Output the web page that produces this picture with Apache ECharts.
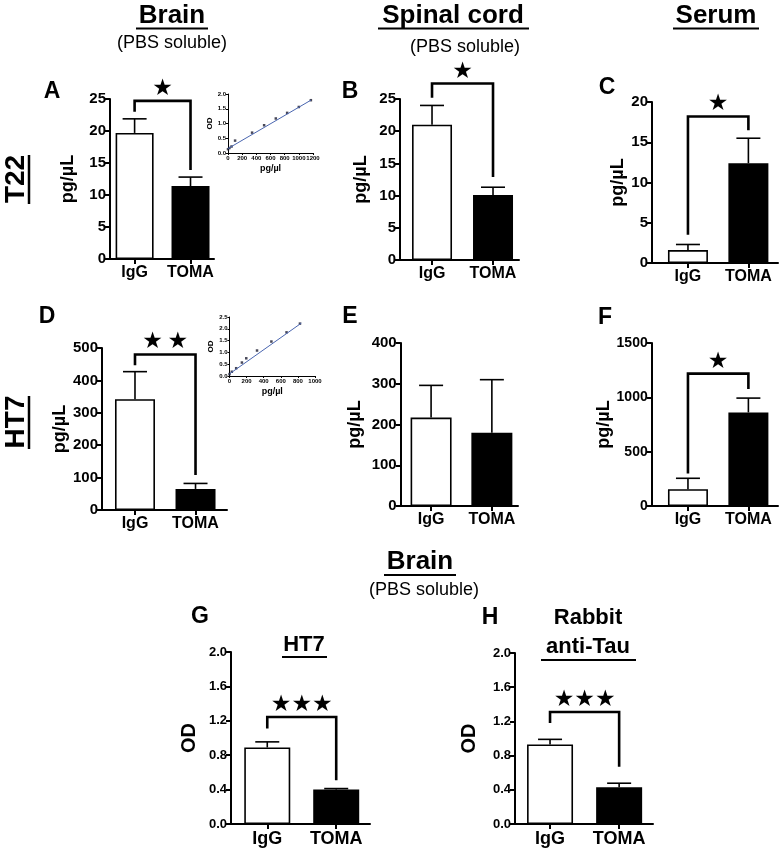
<!DOCTYPE html>
<html><head><meta charset="utf-8">
<script src="https://cdn.jsdelivr.net/npm/echarts@6/dist/echarts.min.js"></script>
<style>html,body{margin:0;padding:0;background:#fff}#c{width:782px;height:853px}</style>
</head><body><div id="c"></div>
<script>
// ---------- data ----------
const categories = ['IgG', 'TOMA'];
// T22 row (pg/µL): mean and SEM for IgG, TOMA
const t22BrainMean = [19.7, 11.4], t22BrainSem = [2.2, 1.4];
const t22SpinalMean = [21.0, 10.1], t22SpinalSem = [3.0, 1.2];
const t22SerumMean = [1.6, 12.4], t22SerumSem = [0.7, 3.1];
// HT7 row (pg/µL)
const ht7BrainMean = [342, 65], ht7BrainSem = [85, 17];
const ht7SpinalMean = [217, 180], ht7SpinalSem = [79, 130];
const ht7SerumMean = [154, 861], ht7SerumSem = [101, 132];
// Bottom row (OD)
const odHt7Mean = [0.89, 0.40], odHt7Sem = [0.065, 0.012];
const odTauMean = [0.93, 0.43], odTauSem = [0.06, 0.047];
// significance brackets: [bracket level, IgG arm end, TOMA arm end]
const sigA = [24.7, 23.0, 13.9], sigB = [27.4, 25.2, 12.9], sigC = [18.2, 3.5, 16.5];
const sigD = [480, 447, 108], sigF = [1218, 300, 1077];
const sigG = [1.245, 1.11, 0.51], sigH = [1.31, 1.18, 0.67];
const starsA = '★', starsB = '★', starsC = '★', starsD = '★\u2009★', starsF = '★', starsG = '★★★', starsH = '★★★';
// standard curves (insets)
const stdT22Conc = [0, 20, 50, 100, 340, 510, 675, 835, 1000, 1170];
const stdT22Od = [0.13, 0.17, 0.22, 0.42, 0.69, 0.94, 1.17, 1.36, 1.56, 1.79];
const fitT22Conc = [0, 1170], fitT22Od = [0.15, 1.79];
const stdHt7Conc = [0, 27, 78, 145, 196, 322, 490, 667, 824];
const stdHt7Od = [0.08, 0.18, 0.33, 0.57, 0.75, 1.08, 1.46, 1.85, 2.22];
const fitHt7Conc = [0, 840], fitHt7Od = [0.09, 2.24];

// ---------- layout ----------
const FONT = '"Liberation Sans", Arial, sans-serif';
const STARFONT = '"DejaVu Sans", sans-serif';
const panels = [
  {mean: t22BrainMean, sem: t22BrainSem, sig: sigA, stars: starsA, yMax: 25, yInt: 5, dec: 0, yName: 'pg/µL',
   L: {left: 110, right: 214, top: 99, bottom: 259, xMin: -0.44, xMax: 1.42, barW: 38, nameGap: 33, tickFont: 15, catFont: 16, nameFont: 18}},
  {mean: t22SpinalMean, sem: t22SpinalSem, sig: sigB, stars: starsB, yMax: 25, yInt: 5, dec: 0, yName: 'pg/µL',
   L: {left: 400, right: 519, top: 99, bottom: 260, xMin: -0.525, xMax: 1.426, barW: 40, nameGap: 30, tickFont: 15, catFont: 16, nameFont: 18}},
  {mean: t22SerumMean, sem: t22SerumSem, sig: sigC, stars: starsC, yMax: 20, yInt: 5, dec: 0, yName: 'pg/µL',
   L: {left: 652, right: 778, top: 102, bottom: 263, xMin: -0.595, xMax: 1.49, barW: 40, nameGap: 24, tickFont: 15, catFont: 16, nameFont: 18}},
  {mean: ht7BrainMean, sem: ht7BrainSem, sig: sigD, stars: starsD, yMax: 500, yInt: 100, dec: 0, yName: 'pg/µL',
   L: {left: 102, right: 227, top: 348, bottom: 510, xMin: -0.545, xMax: 1.52, barW: 40, nameGap: 29, tickFont: 15, catFont: 16, nameFont: 18}},
  {mean: ht7SpinalMean, sem: ht7SpinalSem, sig: null, stars: '', yMax: 400, yInt: 100, dec: 0, yName: 'pg/µL',
   L: {left: 400.7, right: 518, top: 343, bottom: 506, xMin: -0.5, xMax: 1.43, barW: 41, nameGap: 37, tickFont: 15, catFont: 16, nameFont: 18}},
  {mean: ht7SerumMean, sem: ht7SerumSem, sig: sigF, stars: starsF, yMax: 1500, yInt: 500, dec: 0, yName: 'pg/µL',
   L: {left: 651.7, right: 778, top: 343, bottom: 506, xMin: -0.6, xMax: 1.49, barW: 40, nameGap: 27, tickFont: 14, catFont: 16, nameFont: 18}},
  {mean: odHt7Mean, sem: odHt7Sem, sig: sigG, stars: starsG, yMax: 2, yInt: 0.4, dec: 1, yName: 'OD',
   L: {left: 231, right: 370, top: 652, bottom: 824, xMin: -0.526, xMax: 1.49, barW: 46, nameGap: 32, tickFont: 13, catFont: 18, nameFont: 20}},
  {mean: odTauMean, sem: odTauSem, sig: sigH, stars: starsH, yMax: 2, yInt: 0.4, dec: 1, yName: 'OD',
   L: {left: 515, right: 653, top: 653, bottom: 824, xMin: -0.507, xMax: 1.49, barW: 46, nameGap: 36, tickFont: 13, catFont: 18, nameFont: 20}}
];
const insets = [
  {conc: stdT22Conc, od: stdT22Od, fitC: fitT22Conc, fitO: fitT22Od, xMax: 1200, yMax: 2,
   L: {left: 228, top: 94, width: 85, height: 59}},
  {conc: stdHt7Conc, od: stdHt7Od, fitC: fitHt7Conc, fitO: fitHt7Od, xMax: 1000, yMax: 2.5,
   L: {left: 229.5, top: 317, width: 85.5, height: 59}}
];

function errRender(params, api) {
  const x = api.value(0), m = api.value(1), u = api.value(2);
  const p0 = api.coord([x, m]), p1 = api.coord([x, u]);
  const hw = 12;
  return {type: 'group', children: [
    {type: 'line', shape: {x1: p0[0], y1: p0[1], x2: p1[0], y2: p1[1]}, style: {stroke: '#000', lineWidth: 1.6}},
    {type: 'line', shape: {x1: p1[0] - hw, y1: p1[1], x2: p1[0] + hw, y2: p1[1]}, style: {stroke: '#000', lineWidth: 1.6}}
  ]};
}
function sigRender(stars) {
  return function (params, api) {
    const lv = api.value(1), le = api.value(2), re = api.value(3);
    const a = api.coord([0, le]), b = api.coord([0, lv]), c = api.coord([1, lv]), d = api.coord([1, re]);
    return {type: 'group', children: [
      {type: 'polyline', shape: {points: [a, b, c, d]}, style: {stroke: '#000', lineWidth: 2.6, fill: null}},
      {type: 'text', x: (b[0] + c[0]) / 2, y: b[1] - 12,
       style: {text: stars, font: '23px ' + STARFONT, fill: '#000', align: 'center', verticalAlign: 'middle'}}
    ]};
  };
}

const grid = [], xAxis = [], yAxis = [], series = [];
panels.forEach((p, i) => {
  const L = p.L;
  grid.push({left: L.left, top: L.top, width: L.right - L.left, height: L.bottom - L.top});
  xAxis.push({type: 'value', gridIndex: i, min: L.xMin, max: L.xMax, splitLine: {show: false},
    axisLine: {onZero: false, lineStyle: {color: '#000', width: 2}},
    axisTick: {show: true, customValues: [0, 1], length: 5, lineStyle: {color: '#000', width: 2}},
    axisLabel: {customValues: [0, 1], formatter: v => categories[Math.round(v)], color: '#000',
      fontWeight: 'bold', fontSize: L.catFont, fontFamily: FONT, margin: 6}});
  yAxis.push({type: 'value', gridIndex: i, min: 0, max: p.yMax, interval: p.yInt, splitLine: {show: false},
    axisLine: {show: true, onZero: false, lineStyle: {color: '#000', width: 2}},
    axisTick: {show: true, length: 5, lineStyle: {color: '#000', width: 2}},
    axisLabel: {color: '#000', fontWeight: 'bold', fontSize: L.tickFont, fontFamily: FONT, margin: 4,
      formatter: v => v.toFixed(p.dec)},
    name: p.yName, nameLocation: 'middle', nameGap: L.nameGap, nameRotate: 90,
    nameTextStyle: {color: '#000', fontWeight: 'bold', fontSize: L.nameFont, fontFamily: FONT}});
  series.push({type: 'bar', xAxisIndex: i, yAxisIndex: i, barWidth: L.barW, silent: true,
    data: p.mean.map((m, k) => ({value: [k, m], itemStyle: k === 0
      ? {color: '#fff', borderColor: '#000', borderWidth: 1.6}
      : {color: '#000', borderColor: '#000', borderWidth: 1.6}}))});
  series.push({type: 'custom', xAxisIndex: i, yAxisIndex: i, z: 3, clip: false,
    encode: {x: 0, y: [1, 2]},
    data: p.mean.map((m, k) => [k, m, m + p.sem[k]]), renderItem: errRender});
  if (p.sig) {
    series.push({type: 'custom', xAxisIndex: i, yAxisIndex: i, z: 4, clip: false,
      encode: {x: 0, y: [1, 2, 3]},
      data: [[0.5, p.sig[0], p.sig[1], p.sig[2]]], renderItem: sigRender(p.stars)});
  }
});
insets.forEach((s, j) => {
  const i = panels.length + j, L = s.L;
  grid.push({left: L.left, top: L.top, width: L.width, height: L.height});
  xAxis.push({type: 'value', gridIndex: i, min: 0, max: s.xMax, interval: 200, splitLine: {show: false},
    axisLine: {onZero: false, lineStyle: {color: '#000', width: 1}},
    axisTick: {length: 2, lineStyle: {color: '#000', width: 1}},
    axisLabel: {color: '#000', fontSize: 6, fontWeight: 'bold', fontFamily: FONT, margin: 2, formatter: v => String(v)},
    name: 'pg/µl', nameLocation: 'middle', nameGap: 11,
    nameTextStyle: {color: '#000', fontSize: 9, fontWeight: 'bold', fontFamily: FONT}});
  yAxis.push({type: 'value', gridIndex: i, min: 0, max: s.yMax, interval: 0.5, splitLine: {show: false},
    axisLine: {show: true, onZero: false, lineStyle: {color: '#000', width: 1}},
    axisTick: {show: true, length: 2, lineStyle: {color: '#000', width: 1}},
    axisLabel: {color: '#000', fontSize: 6, fontWeight: 'bold', fontFamily: FONT, margin: 2, formatter: v => v.toFixed(1)},
    name: 'OD', nameLocation: 'middle', nameGap: 14, nameRotate: 90,
    nameTextStyle: {color: '#000', fontSize: 8, fontWeight: 'bold', fontFamily: FONT}});
  series.push({type: 'line', xAxisIndex: i, yAxisIndex: i, symbol: 'none', silent: true,
    lineStyle: {color: '#4a66b0', width: 1},
    data: s.fitC.map((c, k) => [c, s.fitO[k]])});
  series.push({type: 'scatter', xAxisIndex: i, yAxisIndex: i, symbol: 'rect', symbolSize: 2.5, silent: true,
    itemStyle: {color: '#1a1a2e'},
    data: s.conc.map((c, k) => [c, s.od[k]])});
});

function txt(x, y, t, size, bold, extra) {
  return Object.assign({type: 'text', x: x, y: y, silent: true,
    style: {text: t, font: (bold ? 'bold ' : '') + size + 'px ' + FONT, fill: '#000', align: 'center', verticalAlign: 'middle'}}, extra || {});
}
function ln(x1, y1, x2, y2, w) {
  return {type: 'line', silent: true, shape: {x1, y1, x2, y2}, style: {stroke: '#000', lineWidth: w || 2}};
}
const graphic = [
  txt(172, 16, 'Brain', 26, true), ln(136, 28.5, 208, 28.5, 2.2),
  txt(172, 43, '(PBS soluble)', 18, false),
  txt(453, 16, 'Spinal cord', 26, true), ln(378, 28.5, 529, 28.5, 2.2),
  txt(465, 47, '(PBS soluble)', 18, false),
  txt(716, 16, 'Serum', 26, true), ln(673, 28.5, 759, 28.5, 2.2),
  txt(16, 179, 'T22', 28, true, {rotation: Math.PI / 2}), ln(29, 155, 29, 204, 2.5),
  txt(16, 422, 'HT7', 28, true, {rotation: Math.PI / 2}), ln(29, 396, 29, 449, 2.5),
  txt(52, 92, 'A', 23, true), txt(350, 92, 'B', 23, true), txt(607, 88, 'C', 23, true),
  txt(47, 317, 'D', 23, true), txt(350, 317, 'E', 23, true), txt(605, 318, 'F', 23, true),
  txt(420, 562, 'Brain', 26, true), ln(384, 575, 456, 575, 2.2),
  txt(424, 590, '(PBS soluble)', 18, false),
  txt(200, 617, 'G', 23, true), txt(490, 618, 'H', 23, true),
  txt(304, 645, 'HT7', 22, true), ln(282, 657, 327, 657, 2),
  txt(588, 618, 'Rabbit', 22, true),
  txt(588, 647, 'anti-Tau', 22, true), ln(541, 660, 636, 660, 2)
];

const chart = echarts.init(document.getElementById('c'));
chart.setOption({animation: false, backgroundColor: '#fff', grid, xAxis, yAxis, series, graphic});
</script></body></html>
